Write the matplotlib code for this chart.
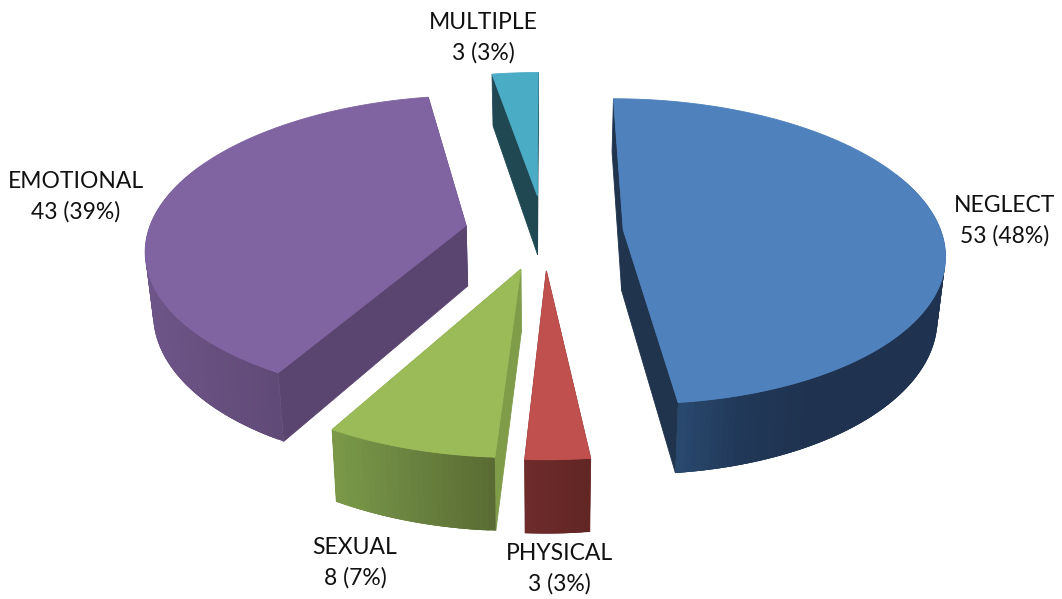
import numpy as np
import matplotlib
matplotlib.use("Agg")
import matplotlib.pyplot as plt
from matplotlib.colors import LinearSegmentedColormap
from matplotlib.patches import Polygon

plt.rcParams['font.family'] = ['Lato', 'DejaVu Sans']

categories = ["NEGLECT", "PHYSICAL", "SEXUAL", "EMOTIONAL", "MULTIPLE"]
values = [53, 3, 8, 43, 3]

top_colors = ["#4f81bd", "#c0504d", "#9bbb59", "#8064a2", "#4bacc6"]
cut_colors = ["#20344e", "#6e2c2b", "#7f9c49", "#5a4470", "#1f4853"]
wall_shades = [["#2a4a70", "#213858", "#1f3350", "#1f3350", "#1f3350"],
               ["#6e2c2b", "#682928", "#622625"],
               ["#7b9a48", "#6a8340", "#5a6c33"],
               ["#6e5589", "#67507f", "#604a78"],
               ["#1f4853", "#1f4853", "#1f4853"]]
label_pos = [(1005, 221), (559, 569), (355, 563), (76, 197), (483, 38)]

# camera: everything is on a ground plane seen with a vanishing point above the figure
CX, HORIZON, DIST = 544., -834., 7.1
X_SCALE, Y_SCALE = 318. * DIST, 1066. * DIST
DROP, X_SHRINK = 1.057, 0.98
EXPLODE = 0.25


def project(x, y, lower=False):
    w = DIST + y
    sx = X_SCALE * x / w
    sy = Y_SCALE / w
    if lower:
        return CX + sx * X_SHRINK, HORIZON + sy * DROP
    return CX + sx, HORIZON + sy


def quad(ax, xs, ys, color, z, lw=0.6):
    ax.add_patch(Polygon(np.column_stack([xs, ys]), closed=True, facecolor=color,
                         edgecolor=color if lw else "none", lw=lw, zorder=z))


def draw_slice(ax, start, end, top, cut, shades, z):
    mid = np.radians((start + end) / 2.)
    ox, oy = EXPLODE * np.sin(mid), EXPLODE * np.cos(mid)
    theta = np.radians(np.arange(start, end + 0.5, 1.0))
    theta[-1] = np.radians(end)
    ux, uy = ox + np.sin(theta), oy + np.cos(theta)

    tx, ty = project(ux, uy)
    bx, by = project(ux, uy, lower=True)
    ax0, ay0 = project(ox, oy)
    bx0, by0 = project(ox, oy, lower=True)

    # cut faces first, the rim over them, then the lid
    for i in (0, -1):
        quad(ax, [ax0, tx[i], bx[i], bx0], [ay0, ty[i], by[i], by0], cut, z)

    cmap = LinearSegmentedColormap.from_list("wall", shades)
    n = len(theta)
    front = by > ay0
    span = (tx[front].min(), tx[front].max()) if front.any() else (0, 1)
    # step through the rim with overlapping quads so no seams show
    for i in range(n - 1):
        if not front[i]:
            continue
        j = min(i + 3, n - 1)
        t = (tx[i] - span[0]) / max(span[1] - span[0], 1.)
        quad(ax, [tx[i], tx[j], bx[j], bx[i]],
             [ty[i], ty[j], by[j], by[i]], cmap(t), z + 0.1, lw=0)

    quad(ax, np.r_[ax0, tx], np.r_[ay0, ty], top, z + 0.2)


fig = plt.figure(figsize=(10.62, 5.99), dpi=100)
ax = fig.add_axes([0, 0, 1, 1])
ax.set_xlim(0, 1062)
ax.set_ylim(599, 0)
ax.axis("off")

total = float(sum(values))
edges = np.r_[0., np.cumsum(values)] / total * 360.
for i in range(len(values)):
    draw_slice(ax, edges[i], edges[i + 1], top_colors[i], cut_colors[i],
               wall_shades[i], z=i + 1)

for name, val, (x, y) in zip(categories, values, label_pos):
    ax.text(x, y, "{}\n{} ({:.0f}%)".format(name, val, val / total * 100),
            ha="center", va="center", fontsize=16.5, color="#111111",
            linespacing=1.5, zorder=20)

fig.savefig("out.png", dpi=100, facecolor="white")
